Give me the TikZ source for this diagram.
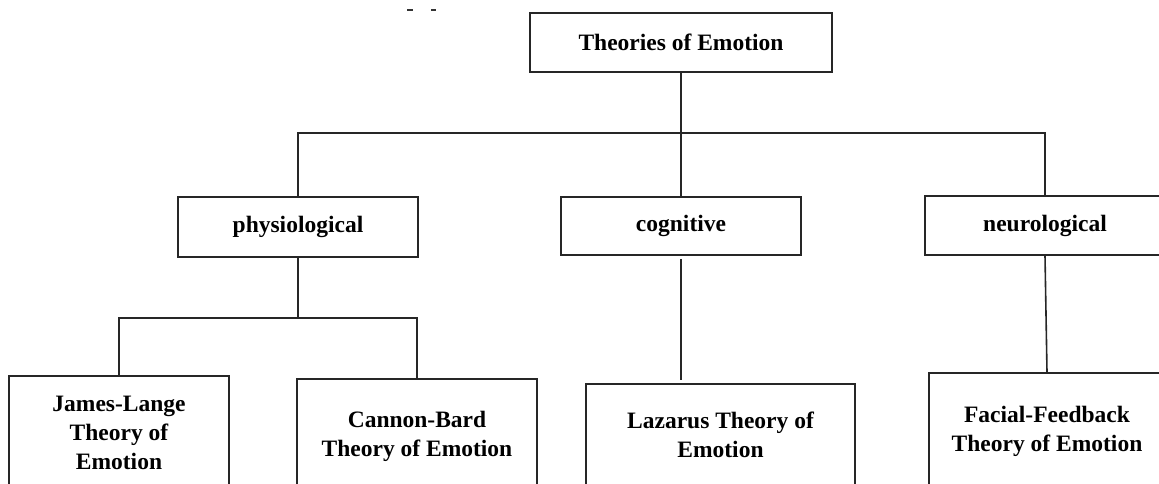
\documentclass[tikz,border=0pt]{standalone}
\usepackage{fontspec}
\setmainfont{Liberation Serif}
\begin{document}
\begin{tikzpicture}[x=1pt,y=-1pt,
  box/.style={draw=black!85, line width=1.6pt, rectangle, inner sep=0pt, align=center,
    font=\fontsize{23.5}{29}\selectfont\bfseries},
  link/.style={draw=black!85, line width=1.6pt}]
\useasboundingbox (0,0) rectangle (1159,483);
\clip (0,0) rectangle (1159,483);
% top node
\node[box, minimum width=302pt, minimum height=59pt] (top) at (681,42.5) {Theories of Emotion};
% middle level
\node[box, minimum width=240pt, minimum height=60pt] (phys) at (298,227) {physiological};
\node[box, minimum width=240pt, minimum height=58pt] (cog) at (681,226) {cognitive};
\node[box, minimum width=240pt, minimum height=59pt] (neuro) at (1045,225.5) {neurological};
% bottom level
\node[box, minimum width=220pt, minimum height=113pt] (jl) at (119,432.5) {James-Lange\\Theory of\\Emotion};
\node[box, minimum width=240pt, minimum height=115pt] (cb) at (417,436.5) {Cannon-Bard\\Theory of Emotion};
\node[box, minimum width=269pt, minimum height=102pt] (laz) at (720.5,435) {Lazarus Theory of\\Emotion};
\node[box, minimum width=236pt, minimum height=116pt] (ff) at (1047,431) {Facial-Feedback\\Theory of Emotion};
% connectors
\coordinate (bus) at (681,133);
\coordinate (pbus) at (298,318);
\draw[link] (top.south) -- (bus);
\draw[link] (phys.north) |- (bus);
\draw[link] (neuro.north) |- (bus);
\draw[link] (bus) -- (cog.north);
\draw[link] (phys.south) -- (pbus);
\draw[link] (jl.north) |- (pbus);
\draw[link] (cb.north) |- (pbus);
\draw[link, shorten <=3pt, shorten >=3pt] (cog.south) -- (cog.south |- laz.north);
\draw[link] (neuro.south) -- (ff.north);
% stray marks at the top edge
\draw[line width=1.5pt, black!80] (407,10) -- (413,10);
\draw[line width=1.5pt, black!80] (431,10) -- (436,10);
\end{tikzpicture}
\end{document}
